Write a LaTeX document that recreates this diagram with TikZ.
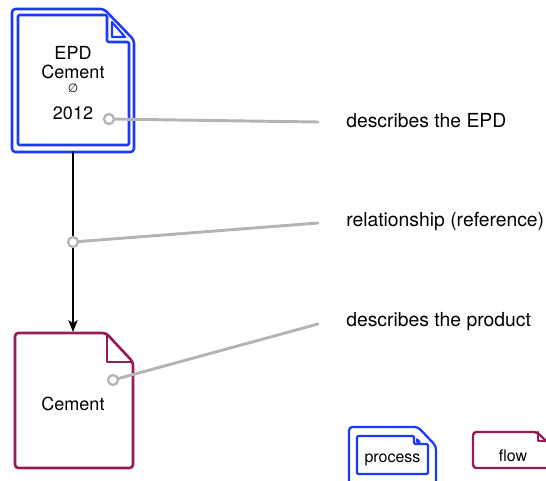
\documentclass[tikz,border=0pt]{standalone}
\usepackage{fontspec}
\setmainfont{TeX Gyre Heros}
\newfontfamily\symfont{DejaVu Sans}
\usetikzlibrary{arrows.meta}
\definecolor{procblue}{RGB}{28,58,250}
\definecolor{flowred}{RGB}{150,28,88}
\definecolor{notegray}{RGB}{180,180,180}

\begin{document}
\begin{tikzpicture}[line cap=round,line join=round,x=0.75pt,y=-0.75pt,
		procdoc/.style={draw=procblue,line width=1.9pt,rounded corners=2.5pt},
		flowdoc/.style={draw=flowred,line width=2pt,rounded corners=2.5pt},
		note/.style={draw=notegray,line width=2.2pt},
		notedot/.style={draw=notegray,line width=1.7pt,fill=white},
		doctext/.style={font=\fontsize{13.5}{16}\selectfont,inner sep=0pt,anchor=base},
		notetext/.style={font=\fontsize{14.5}{17}\selectfont,inner sep=0pt,anchor=base west},
		keytext/.style={font=\fontsize{12}{14}\selectfont,inner sep=0pt,anchor=base}]
	\useasboundingbox (0,0) rectangle (546,480);
	\clip (0,0) rectangle (546,480);
	% process document (EPD)
	\draw [procdoc] (12,9) -- (104,9) -- (134,40) -- (134,152) -- (12,152) -- cycle;
	\draw [procdoc,rounded corners=1pt] (18,15) -- (107,15) -- (107,42) -- (129,42) -- (129,145) -- (18,145) -- cycle;
	\draw [procdoc,line width=1.6pt,rounded corners=0pt] (112,22) -- (112,37) -- (125,37) -- cycle;
	\node [doctext] (epdname) at (73,59) {EPD};
	\node [doctext] (epdflow) at (73,78.7) {Cement};
	\node [doctext,font=\symfont\fontsize{9}{10}\selectfont] (epdloc) at (73,92.5) {∅};
	\node [doctext] (epdyear) at (73,119) {2012};
	% flow document (Cement)
	\draw [flowdoc] (15,333) -- (106,333) -- (133,362) -- (133,468) -- (15,468) -- cycle;
	\draw [flowdoc,rounded corners=0pt] (107,334) -- (107,362) -- (132,362);
	\node [doctext] (flowname) at (73,410) {Cement};
	% relationship
	\coordinate (epdbot) at (73,152);
	\coordinate (flowtop) at (73,332);
	\draw [line width=1.5pt,-{Stealth[length=9pt,width=7pt,inset=2.5pt]}] (epdbot) -- (flowtop);
	% notes
	\coordinate (dotepd) at (109,119);
	\coordinate (dotrel) at (73,242);
	\coordinate (dotflow) at (113,380);
	\coordinate (endepd) at (318,122);
	\coordinate (endrel) at (318,223);
	\coordinate (endflow) at (318,324);
	\node [notetext] (noteepd) at (346,127) {describes the EPD};
	\node [notetext] (noterel) at (346,226) {relationship (reference)};
	\node [notetext] (noteflow) at (346,326) {describes the product};
	\draw [note] (dotepd) -- (endepd);
	\draw [note] (dotrel) -- (endrel);
	\draw [note] (dotflow) -- (endflow);
	\draw [notedot] (dotepd) circle (5);
	\draw [notedot] (dotrel) circle (5);
	\draw [notedot] (dotflow) circle (5);
	% legend
	\draw [procdoc,line width=1.7pt] (349,427) -- (418,427) -- (436,446) -- (436,492) -- (349,492) -- cycle;
	\draw [procdoc,line width=1.7pt,rounded corners=1pt] (357,436) -- (414,436) -- (414,444) -- (428,444) -- (428,474) -- (357,474) -- cycle;
	\draw [procdoc,line width=1.2pt,rounded corners=0pt] (417,439) -- (417,442) -- (420,442) -- cycle;
	\node [keytext] (keyproc) at (392.5,462.5) {process};
	\draw [flowdoc,line width=1.8pt] (473,432) -- (537,432) -- (550,445) -- (550,468) -- (473,468) -- cycle;
	\draw [flowdoc,line width=1.8pt,rounded corners=0pt] (538,432) -- (538,441) -- (550,441);
	\node [keytext] (keyflow) at (513,461.7) {flow};
\end{tikzpicture}
\end{document}
